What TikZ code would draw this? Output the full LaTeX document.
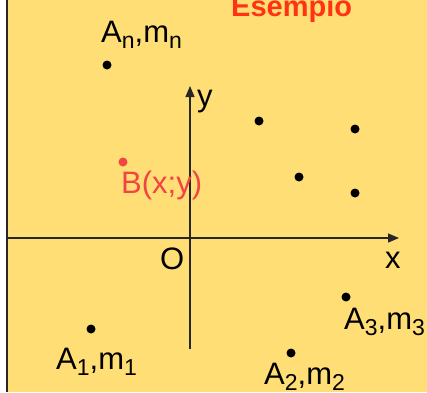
\documentclass[tikz,border=0pt]{standalone}
\usepackage{fontspec}
\setmainfont{Liberation Sans}
\usetikzlibrary{arrows.meta, positioning}
\definecolor{sfondo}{HTML}{FFDE75}
\definecolor{rossoEs}{HTML}{FF3314}
\definecolor{rossoB}{HTML}{F24444}
\colorlet{assi}{black!85}
\newcommand\pedice[1]{\raisebox{-6.5pt}{\fontsize{23}{23}\selectfont #1}}

\begin{document}
\begin{tikzpicture}[x=1pt, y=-1pt, font=\fontsize{31}{31}\selectfont,
  punto/.style={circle, fill=black, inner sep=0pt, minimum size=9pt},
  etich/.style={inner sep=0pt, anchor=base west}]
  \useasboundingbox (0,0) rectangle (427,392);
  % sfondo giallo con bordo a sinistra
  \fill[sfondo] (7,0) rectangle (427,392);
  \draw[black!85, line width=2pt] (7,0) -- (7,392);
  % assi
  \coordinate (O) at (190,238);
  \coordinate (xin) at (8,238);
  \coordinate (xfin) at (399,238);
  \coordinate (yin) at (190,349);
  \coordinate (yfin) at (190,86);
  \draw[assi, line width=1.2pt, -{Triangle[length=11pt, width=9pt]}] (xin) -- (xfin);
  \draw[assi, line width=1.2pt, -{Triangle[length=11pt, width=9pt]}] (yin) -- (yfin);
  \node[etich] (lx) at (385,268) {x};
  \node[etich] (ly) at (197,106) {y};
  \node[etich] (lO) at (160,269) {O};
  % titolo
  \node[etich, rossoEs, font=\fontsize{29}{29}\selectfont\bfseries] (titolo) at (231,16) {Esempio};
  % punti materiali
  \foreach \n/\x/\y in {An/107/65, P1/259/121, P2/355/129, P3/299/177, P4/355/193, A3/346/297, A2/291/353, A1/91/329}{
    \node[punto] (\n) at (\x,\y) {};}
  \node[punto, fill=rossoB] (B) at (123,162) {};
  % etichette
  \node[etich] (lAn) at (101,42) {A\pedice{n},m\pedice{n}};
  \node[etich, rossoB] (lB) at (121,193) {B(x;y)};
  \node[etich] (lA3) at (344,329) {A\pedice{3},m\pedice{3}};
  \node[etich] (lA1) at (56,369) {A\pedice{1},m\pedice{1}};
  \node[etich] (lA2) at (264,384) {A\pedice{2},m\pedice{2}};
\end{tikzpicture}
\end{document}
